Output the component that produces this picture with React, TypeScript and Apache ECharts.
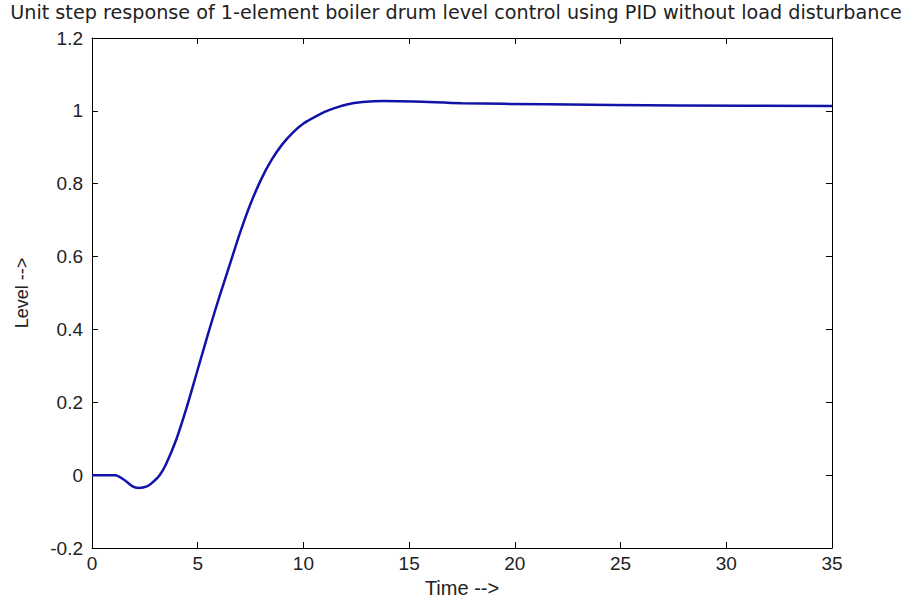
import React, { useEffect, useRef } from "react";
import * as echarts from "echarts";

const titleText = "Unit step response of 1-element boiler drum level control using PID without load disturbance";
const xLabel = "Time -->";
const yLabel = "Level -->";
const timeValues = [0, 1.1, 1.5, 1.9, 2.2, 2.6, 2.9, 3.2, 3.5, 4.0, 4.5, 5.0, 5.5, 6.0, 6.5, 7.0, 7.5, 8.0, 8.5, 9.0, 9.5, 10.0, 10.5, 11.0, 11.5, 12.0, 12.8, 13.8, 15.2, 17.5, 21.5, 27.8, 35];
const levelValues = [0, 0, -0.012, -0.03, -0.035, -0.031, -0.018, 0.0, 0.03, 0.1, 0.19, 0.29, 0.39, 0.485, 0.575, 0.665, 0.745, 0.812, 0.866, 0.908, 0.94, 0.965, 0.982, 0.997, 1.008, 1.017, 1.024, 1.027, 1.026, 1.021, 1.018, 1.015, 1.013];
const xTicks = { min: 0, max: 35, interval: 5 };
const yTicks = { min: -0.2, max: 1.2, interval: 0.2 };

const FONT = "'Liberation Sans', Arial, sans-serif";

export default function App() {
  const ref = useRef<HTMLDivElement>(null);
  useEffect(() => {
    if (!ref.current) return;
    const chart = echarts.init(ref.current, null, { renderer: "svg" });
    const data = timeValues.map((t, i) => [t, levelValues[i]]);
    const axisLine = { show: true, onZero: false, lineStyle: { color: "#000", width: 1 } };
    const axisTick = { show: true, inside: true, length: 6, lineStyle: { color: "#000" } };
    const label = { color: "#222", fontSize: 19, lineHeight: 17, fontFamily: FONT };
    chart.setOption({
      animation: false,
      backgroundColor: "#fff",
      title: {
        text: titleText,
        left: 456,
        textAlign: "center",
        top: 2,
        padding: 0,
        textStyle: { color: "#222", fontSize: 19.2, lineHeight: 20, fontWeight: "normal", fontFamily: "'DejaVu Sans', sans-serif" },
      },
      grid: { left: 92, right: 81, top: 38, bottom: 54, show: false, containLabel: false, outerBoundsMode: "none" },
      xAxis: [
        {
          type: "value",
          position: "bottom",
          min: xTicks.min,
          max: xTicks.max,
          interval: xTicks.interval,
          axisLine,
          axisTick,
          splitLine: { show: false },
          axisLabel: { ...label, margin: 7 },
          name: xLabel,
          nameLocation: "middle",
          nameGap: 30,
          nameTextStyle: { color: "#222", fontSize: 20, fontFamily: FONT },
        },
        {
          type: "value",
          position: "top",
          min: xTicks.min,
          max: xTicks.max,
          interval: xTicks.interval,
          axisLine,
          axisTick,
          splitLine: { show: false },
          axisLabel: { show: false },
        },
      ],
      yAxis: [
        {
          type: "value",
          position: "left",
          min: yTicks.min,
          max: yTicks.max,
          interval: yTicks.interval,
          axisLine,
          axisTick,
          splitLine: { show: false },
          axisLabel: { ...label, margin: 9, formatter: (v: number) => String(Math.round(v * 10) / 10) },
          name: yLabel,
          nameLocation: "middle",
          nameGap: 61,
          nameRotate: 90,
          nameTextStyle: { color: "#222", fontSize: 18, fontFamily: FONT },
        },
        {
          type: "value",
          position: "right",
          min: yTicks.min,
          max: yTicks.max,
          interval: yTicks.interval,
          axisLine,
          axisTick,
          splitLine: { show: false },
          axisLabel: { show: false },
        },
      ],
      series: [
        {
          type: "line",
          data,
          xAxisIndex: 0,
          yAxisIndex: 0,
          showSymbol: false,
          smooth: 0.3,
          lineStyle: { color: "#1212a8", width: 2.5 },
        },
      ],
    });
    return () => chart.dispose();
  }, []);
  return <div ref={ref} style={{ position: "fixed", left: 0, top: 0, width: 913, height: 602 }} />;
}
